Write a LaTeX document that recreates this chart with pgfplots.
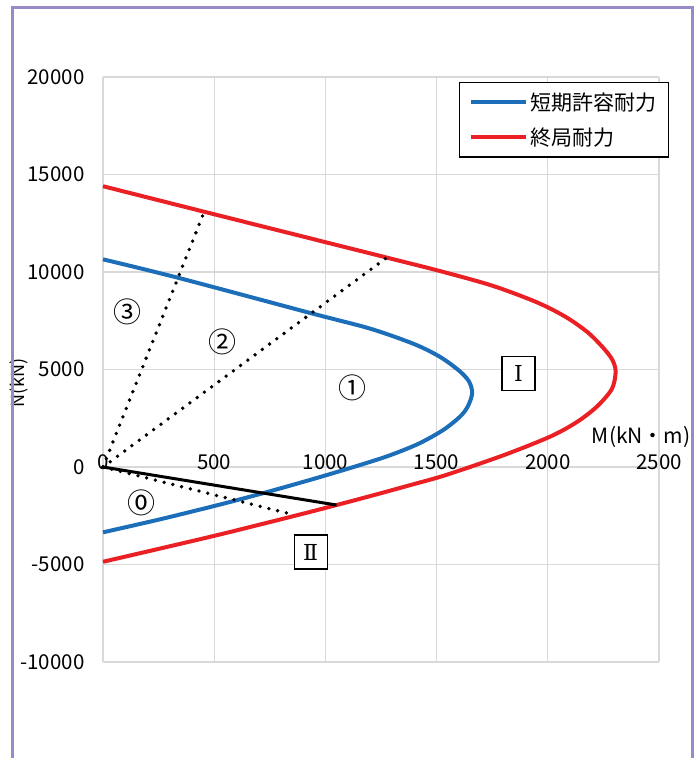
\documentclass[border=0pt]{standalone}
\usepackage{fontspec}
\setmainfont{Noto Sans CJK JP}
\newfontfamily\romanfont{DejaVu Serif}
\usepackage{pgfplots}
\pgfplotsset{compat=1.18}
\definecolor{capblue}{RGB}{28,110,185}
\definecolor{ultred}{RGB}{234,32,36}
\definecolor{gridgray}{RGB}{217,217,217}
\definecolor{framepurple}{RGB}{152,138,200}

\begin{document}
\begin{tikzpicture}
\begin{axis}[
	at={(103pt,-662pt)}, anchor=south west,
	scale only axis, width=556pt, height=585pt,
	xmin=0, xmax=2500, ymin=-10000, ymax=20000,
	xtick={0,500,...,2500}, ytick={-10000,-5000,...,20000},
	axis x line*=middle, axis y line*=left,
	hide obscured x ticks=false, hide obscured y ticks=false,
	axis line style={draw=gridgray, line width=1.3pt},
	grid=major, grid style={draw=gridgray, line width=1.3pt},
	major tick length=0pt,
	scaled ticks=false,
	/pgf/number format/.cd, 1000 sep={}, assume math mode=true, /pgfplots/.cd,
	tick label style={font=\fontsize{20.5}{24}\selectfont},
	x tick label style={anchor=south, yshift=-6pt},
	y tick label style={anchor=east, xshift=-15pt},
	xlabel={M(kN・m)}, ylabel={N(kN)},
	every axis x label/.style={at={(axis description cs:0.968,0.385)}, anchor=center, font=\fontsize{21}{24}\selectfont},
	every axis y label/.style={at={(axis description cs:-0.151,0.477)}, anchor=center, rotate=90, font=\fontsize{18}{22}\selectfont},
	legend cell align=left,
	legend image code/.code={\draw[#1] (0pt,0pt) -- (55pt,0pt);},
	legend style={at={(axis description cs:0.640,0.9915)}, anchor=north west,
		draw=black, line width=1.3pt, fill=white,
		font=\fontsize{21}{24}\selectfont,
		inner xsep=10pt, inner ysep=8pt, row sep=12pt},
	clip=false,
]

% short-term allowable strength
\addplot[capblue, line width=4pt, smooth] coordinates {
	(0,10650) (339,9700) (938,7880) (1200,7100) (1400,6300) (1515,5650)
	(1600,4950) (1645,4400) (1660,3790) (1640,3100) (1605,2580) (1530,1900)
	(1420,1200) (1290,600) (1156,103) (950,-600) (706,-1385) (500,-2000)
	(250,-2700) (0,-3350)
};
\addlegendentry{短期許容耐力}

% ultimate strength
\addplot[ultred, line width=4pt, smooth] coordinates {
	(0,14400) (455,13090) (1000,11530) (1276,10740) (1515,10050) (1750,9300)
	(1950,8450) (2080,7700) (2180,6900) (2250,6100) (2290,5500) (2305,4890)
	(2288,4000) (2220,3092) (2130,2300) (2010,1555) (1800,600) (1545,-400)
	(1400,-870) (1215,-1450) (1050,-1950) (870,-2480) (500,-3530) (0,-4860)
};
\addlegendentry{終局耐力}

\addplot[black, line width=3.8pt, dash pattern=on 0pt off 9pt, line cap=round, forget plot]
	coordinates {(0,0) (455,13090)};
\addplot[black, line width=3.8pt, dash pattern=on 0pt off 9pt, line cap=round, forget plot]
	coordinates {(0,0) (1276,10740)};
\addplot[black, line width=3.8pt, dash pattern=on 0pt off 9pt, line cap=round, forget plot]
	coordinates {(0,0) (851,-2430)};
\addplot[black, line width=3pt, forget plot]
	coordinates {(0,0) (1050,-1950)};

\node[font=\fontsize{28}{30}\selectfont] at (axis cs:109,7964) {③};
\node[font=\fontsize{28}{30}\selectfont] at (axis cs:538,6426) {②};
\node[font=\fontsize{28}{30}\selectfont] at (axis cs:1123,4036) {①};
\node[font=\fontsize{28}{30}\selectfont] at (axis cs:171,-1862) {⓪};
\node[draw=black, line width=1.2pt, fill=white, minimum width=33pt, minimum height=34pt,
	inner sep=0pt, font=\romanfont\fontsize{22}{24}\selectfont] at (axis cs:1868,4779) {Ⅰ};
\node[draw=black, line width=1.2pt, fill=white, minimum width=33pt, minimum height=34pt,
	inner sep=0pt, font=\romanfont\fontsize{22}{24}\selectfont] at (axis cs:934,-4359) {Ⅱ};
\end{axis}

\draw[framepurple, line width=3pt] (12.5pt,-800pt) -- (12.5pt,-7.5pt) -- (692pt,-7.5pt) -- (692pt,-800pt);
\pgfresetboundingbox
\useasboundingbox (0pt,0pt) rectangle (694pt,-758pt);
\end{tikzpicture}
\end{document}
